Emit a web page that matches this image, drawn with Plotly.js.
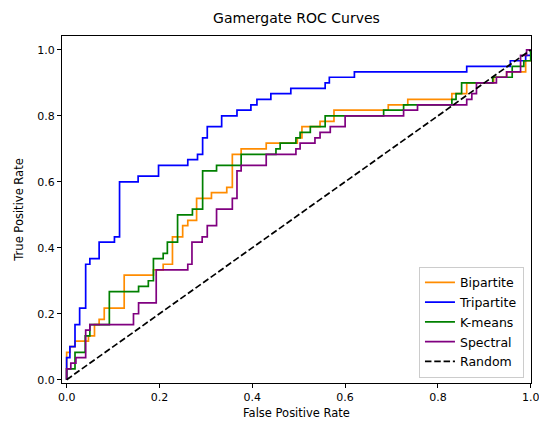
<!DOCTYPE html>
<html>
<head>
<meta charset="utf-8">
<script src="https://cdn.plot.ly/plotly-3.0.1.min.js"></script>
<style>
  html, body { margin: 0; padding: 0; background: #fff; }
  #chart { width: 539px; height: 421px; }
</style>
</head>
<body>
<div id="chart"></div>
<script>
// ROC operating points (false positive rate, true positive rate) per method.
const bipartiteFpr = [0, 0, 0.007, 0.018, 0.047, 0.06, 0.07, 0.081, 0.124, 0.187, 0.208, 0.228, 0.25, 0.261, 0.28, 0.312, 0.345, 0.357, 0.376, 0.43, 0.497, 0.507, 0.546, 0.576, 0.693, 0.735, 0.83, 0.862, 0.92, 0.948, 0.989, 1.0];
const bipartiteTpr = [0, 0.083, 0.1, 0.117, 0.133, 0.167, 0.183, 0.217, 0.317, 0.333, 0.35, 0.433, 0.467, 0.483, 0.55, 0.567, 0.583, 0.683, 0.7, 0.717, 0.733, 0.767, 0.783, 0.817, 0.833, 0.85, 0.867, 0.9, 0.917, 0.933, 0.967, 1.0];

const tripartiteFpr = [0, 0, 0.007, 0.018, 0.028, 0.041, 0.05, 0.07, 0.103, 0.114, 0.154, 0.198, 0.261, 0.282, 0.293, 0.303, 0.334, 0.367, 0.397, 0.41, 0.44, 0.483, 0.557, 0.566, 0.62, 0.862, 0.956, 0.989, 1.0];
const tripartiteTpr = [0, 0.067, 0.1, 0.167, 0.217, 0.35, 0.367, 0.417, 0.433, 0.6, 0.617, 0.65, 0.667, 0.683, 0.733, 0.767, 0.8, 0.817, 0.833, 0.85, 0.867, 0.883, 0.9, 0.917, 0.933, 0.95, 0.967, 0.983, 1.0];

const kmeansFpr = [0, 0, 0.018, 0.04, 0.05, 0.092, 0.155, 0.176, 0.187, 0.208, 0.217, 0.239, 0.271, 0.293, 0.323, 0.376, 0.451, 0.46, 0.494, 0.503, 0.525, 0.557, 0.683, 0.726, 0.83, 0.839, 0.851, 0.918, 0.96, 0.985, 1.0];
const kmeansTpr = [0, 0.033, 0.083, 0.133, 0.167, 0.267, 0.283, 0.3, 0.367, 0.383, 0.417, 0.5, 0.517, 0.633, 0.65, 0.683, 0.7, 0.717, 0.733, 0.75, 0.767, 0.8, 0.817, 0.833, 0.85, 0.867, 0.9, 0.917, 0.95, 0.967, 1.0];

const spectralFpr = [0, 0, 0.009, 0.02, 0.041, 0.05, 0.144, 0.155, 0.193, 0.261, 0.27, 0.292, 0.303, 0.323, 0.357, 0.367, 0.376, 0.43, 0.494, 0.503, 0.535, 0.546, 0.568, 0.6, 0.726, 0.756, 0.862, 0.873, 0.883, 0.926, 0.948, 0.978, 0.991, 1.0];
const spectralTpr = [0, 0.033, 0.05, 0.067, 0.15, 0.167, 0.2, 0.233, 0.333, 0.35, 0.417, 0.433, 0.467, 0.517, 0.55, 0.633, 0.65, 0.683, 0.7, 0.717, 0.733, 0.75, 0.767, 0.8, 0.817, 0.833, 0.85, 0.867, 0.9, 0.917, 0.933, 0.983, 1.0, 1.0];

const randomFpr = [0, 1];
const randomTpr = [0, 1];

const seriesNames = ['Bipartite', 'Tripartite', 'K-means', 'Spectral', 'Random'];
const tickVals = [0, 0.2, 0.4, 0.6, 0.8, 1.0];
const tickText = ['0.0', '0.2', '0.4', '0.6', '0.8', '1.0'];

const FONT = 'DejaVu Sans, sans-serif';

function rocTrace(name, x, y, color) {
  return {
    type: 'scatter', mode: 'lines', name: name, legendgroup: name, x: x, y: y,
    line: { color: color, width: 1.7, shape: 'hv' }
  };
}

const traces = [
  rocTrace(seriesNames[0], bipartiteFpr, bipartiteTpr, '#ff8c00'),
  rocTrace(seriesNames[1], tripartiteFpr, tripartiteTpr, '#0000ff'),
  rocTrace(seriesNames[2], kmeansFpr, kmeansTpr, '#008000'),
  rocTrace(seriesNames[3], spectralFpr, spectralTpr, '#800080'),
  {
    type: 'scatter', mode: 'lines', name: seriesNames[4], legendgroup: seriesNames[4],
    x: randomFpr, y: randomTpr,
    line: { color: '#000000', width: 1.7, dash: '6.5px,2.8px' }
  }
];

const axisCommon = {
  showgrid: false, zeroline: false,
  showline: true, mirror: true, linecolor: '#000', linewidth: 1,
  ticks: 'outside', ticklen: 4, tickwidth: 1, tickcolor: '#000',
  tickvals: tickVals, ticktext: tickText,
  ticklabeloverflow: 'allow',
  tickfont: { family: FONT, size: 11, color: '#000' }
};

const layout = {
  width: 539, height: 421,
  margin: { l: 62, r: 8, t: 36, b: 38, pad: 0 },
  paper_bgcolor: '#fff', plot_bgcolor: '#fff',
  title: {
    text: 'Gamergate ROC Curves',
    font: { family: FONT, size: 14, color: '#000' },
    x: 0.5, xref: 'paper', xanchor: 'center',
    y: 1, yref: 'container', yanchor: 'top', pad: { t: 13 }
  },
  xaxis: Object.assign({}, axisCommon, {
    range: [-0.01, 1.0005],
    title: { text: 'False Positive Rate', font: { family: FONT, size: 11.5, color: '#000' }, standoff: 5 }
  }),
  yaxis: Object.assign({}, axisCommon, {
    range: [-0.01, 1.042],
    title: { text: 'True Positive Rate', font: { family: FONT, size: 11.5, color: '#000' }, standoff: 11 }
  }),
  showlegend: true,
  legend: {
    x: 0.985, xanchor: 'right', y: 0.015, yanchor: 'bottom',
    bgcolor: 'rgba(255,255,255,0.8)', bordercolor: '#cccccc', borderwidth: 1,
    font: { family: FONT, size: 12.5, color: '#000' },
    tracegroupgap: 0.5
  }
};

Plotly.newPlot('chart', traces, layout, { displayModeBar: false, staticPlot: true });
</script>
</body>
</html>
